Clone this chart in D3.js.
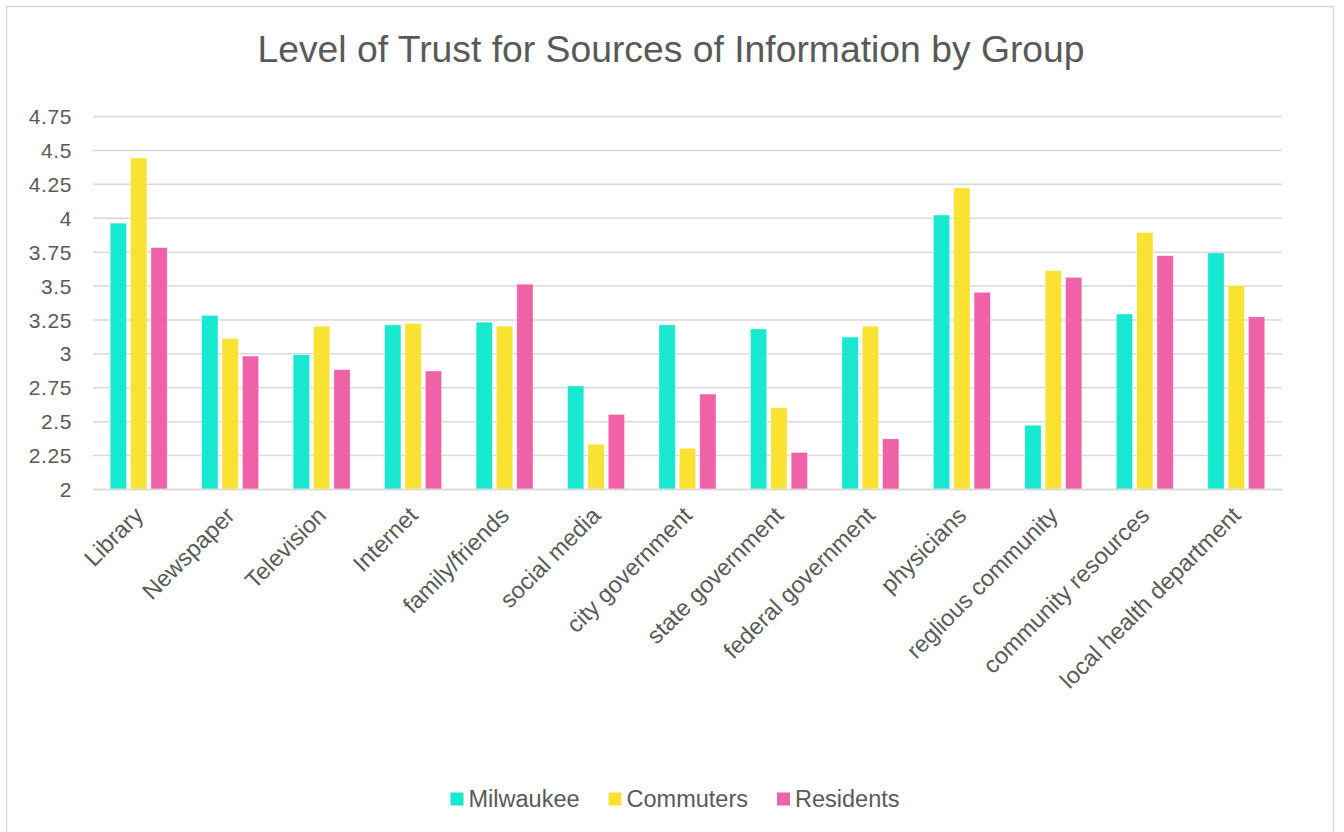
<!DOCTYPE html>
<html>
<head>
<meta charset="utf-8">
<script src="https://cdn.jsdelivr.net/npm/d3@7"></script>
<style>
  html, body { margin: 0; padding: 0; background: #fff; }
  svg { display: block; font-family: Arial, "Liberation Sans", sans-serif; }
</style>
</head>
<body>
<svg id="chart" width="1344" height="832"></svg>
<script>
const categories = ["Library", "Newspaper", "Television", "Internet", "family/friends", "social media",
  "city government", "state government", "federal government", "physicians", "reglious community",
  "community resources", "local health department"];
const seriesNames = ["Milwaukee", "Commuters", "Residents"];
const milwaukee = [3.96, 3.28, 2.99, 3.21, 3.23, 2.76, 3.21, 3.18, 3.12, 4.02, 2.47, 3.29, 3.74];
const commuters = [4.44, 3.11, 3.20, 3.22, 3.20, 2.33, 2.30, 2.60, 3.20, 4.22, 3.61, 3.89, 3.50];
const residents = [3.78, 2.98, 2.88, 2.87, 3.51, 2.55, 2.70, 2.27, 2.37, 3.45, 3.56, 3.72, 3.27];
const yTicks = [2, 2.25, 2.5, 2.75, 3, 3.25, 3.5, 3.75, 4, 4.25, 4.5, 4.75];
const colors = ["#17E8CF", "#F9E231", "#F062A8"];
const title = "Level of Trust for Sources of Information by Group";

(function () {
const series = [milwaukee, commuters, residents];
const svg = d3.select("#chart");
const textColor = "#595959";
const gridColor = "#d9d9d9";
const fontFam = "Arial, 'Liberation Sans', sans-serif";

// frame
svg.append("rect").attr("x", 6.5).attr("y", 6.5).attr("width", 1327).attr("height", 840)
  .attr("fill", "#fff").attr("stroke", gridColor).attr("stroke-width", 1.5);

const pLeft = 93, pRight = 1282, pTop = 116, pBottom = 489;
const y = d3.scaleLinear().domain([2, 4.75]).range([pBottom, pTop]);
const x = d3.scaleBand().domain(categories).range([pLeft, pRight]).padding(0);

// title
svg.append("text").attr("x", 671).attr("y", 62).attr("text-anchor", "middle")
  .attr("fill", textColor).style("font-size", "37.3px").style("font-family", fontFam).text(title);

// gridlines + y labels
const yAxis = d3.axisLeft(y).tickValues(yTicks).tickSize(-(pRight - pLeft)).tickFormat(d => String(d)).tickPadding(21);
const gy = svg.append("g").attr("transform", `translate(${pLeft},0)`).call(yAxis);
gy.select(".domain").remove();
gy.selectAll(".tick line").attr("stroke", gridColor).attr("stroke-width", 1.5);
gy.selectAll(".tick text").attr("fill", textColor).style("font-size", "21px")
  .style("font-family", fontFam).attr("dy", "0.36em").attr("letter-spacing", "0.6px");

// bars
const step = x.bandwidth();
const bw = step * 0.178;
const gap = bw * 0.25;
const gBars = svg.append("g");
series.forEach((vals, si) => {
  gBars.selectAll(null).data(vals).enter().append("rect")
    .attr("x", (d, i) => x(categories[i]) + step / 2 + (si - 1) * (bw + gap) - bw / 2)
    .attr("y", d => y(d))
    .attr("width", bw)
    .attr("height", d => y(2) - y(d))
    .attr("fill", colors[si])
    .attr("stroke", "#ffffff").attr("stroke-opacity", 0.5).attr("stroke-width", 0.75);
});

// baseline axis + category labels
const xAxis = d3.axisBottom(x).tickSize(0).tickPadding(0);
const gx = svg.append("g").attr("transform", `translate(0,${pBottom})`).call(xAxis);
gx.select(".domain").attr("stroke", gridColor).attr("stroke-width", 1.5);
gx.selectAll(".tick text")
  .attr("fill", textColor).style("font-size", "23.5px")
  .style("font-family", fontFam)
  .attr("text-anchor", "end")
  .attr("dy", "0.72em")
  .attr("transform", "translate(-6,16) rotate(-45)");

// legend
const legendY = 799;
const lg = svg.append("g");
const items = seriesNames.map((n, i) => {
  const g = lg.append("g");
  g.append("rect").attr("x", 0).attr("y", -6.5).attr("width", 13).attr("height", 13).attr("fill", colors[i]);
  const t = g.append("text").attr("x", 18).attr("y", 0).attr("dy", "0.36em")
    .attr("fill", textColor).style("font-size", "23.5px").style("font-family", fontFam).text(n);
  return { g, w: 18 + t.node().getComputedTextLength() };
});
const spacing = 29;
const total = d3.sum(items, d => d.w) + spacing * (items.length - 1);
let cx = 675 - total / 2;
items.forEach(it => { it.g.attr("transform", `translate(${cx},${legendY})`); cx += it.w + spacing; });
})();
</script>
</body>
</html>
